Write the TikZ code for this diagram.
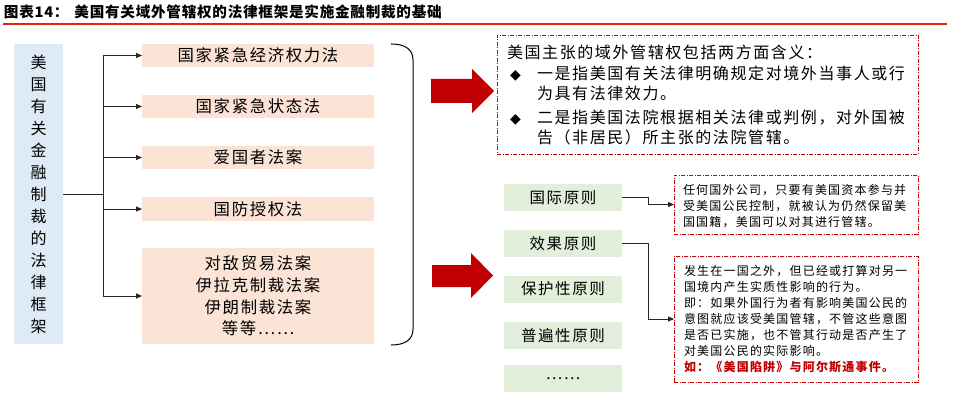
\documentclass[tikz,border=0pt]{standalone}
\usepackage{fontspec}
\setmainfont{Noto Sans CJK SC}
\newfontfamily\spaced[LetterSpace=10]{Noto Sans CJK SC}
\newfontfamily\titlefont[LetterSpace=5]{Noto Sans CJK SC}
\newfontfamily\symfont{DejaVu Sans}
\usetikzlibrary{arrows.meta}
\definecolor{bluebg}{RGB}{222,234,246}
\definecolor{peach}{RGB}{251,228,213}
\definecolor{greenbg}{RGB}{226,239,218}
\definecolor{darkred}{RGB}{192,0,0}
\definecolor{titlered}{RGB}{235,30,10}
\newcommand\dia{\makebox[30pt][l]{\hspace*{3pt}\symfont\fontsize{14}{14}\selectfont ◆}}
\begin{document}
\begin{tikzpicture}[x=1pt,y=-1pt,
  every node/.style={inner sep=0pt, outer sep=0pt},
  vbox/.style={fill=bluebg, minimum width=49pt, minimum height=300pt, align=center, font=\spaced\fontsize{16}{22}\selectfont},
  law/.style={fill=peach, minimum width=232pt, align=center, font=\spaced\fontsize{16.4}{21.7}\selectfont},
  principle/.style={fill=greenbg, minimum width=118pt, minimum height=27pt, font=\spaced\fontsize{15.5}{18}\selectfont},
  redbox/.style={draw=darkred, line width=0.8pt, dash pattern=on 4pt off 1.5pt on 1pt off 1.5pt},
  arr/.style={draw=black!85, line width=0.8pt, -{Triangle[length=6pt,width=5pt]}},
  bigarrow/.style={fill=darkred},
]
\useasboundingbox (0,0) rectangle (960,409);
% title
\node[anchor=west, font=\titlefont\bfseries\fontsize{14.6}{16}\selectfont] (title) at (4,12) {图表14：\hspace{6pt}美国有关域外管辖权的法律框架是实施金融制裁的基础};
\coordinate (tl) at (3,24);
\coordinate (tr) at (947,24);
\draw[titlered, line width=2pt] (tl) -- (tr);

% left column
\node[vbox] (root) at (38.5,194) {美\\国\\有\\关\\金\\融\\制\\裁\\的\\法\\律\\框\\架};
\node[law, minimum height=23pt] (p1) at (258,55.5) {国家紧急经济权力法};
\node[law, minimum height=23pt] (p2) at (258,106.5) {国家紧急状态法};
\node[law, minimum height=23pt] (p3) at (258,157.5) {爱国者法案};
\node[law, minimum height=24pt] (p4) at (258,209) {国防授权法};
\node[law, minimum height=96pt] (p5) at (258,296) {对敌贸易法案\\伊拉克制裁法案\\伊朗制裁法案\\等等……};

\coordinate (trunk) at (103,194);
\draw[black!85, line width=0.8pt] (root.east |- trunk) -- (trunk);
\foreach \p in {p1,p2,p3,p4,p5}{
  \draw[arr] (trunk) |- (\p.west);
}

% bracket
\draw[line width=1pt] (391,44) .. controls (406,44) and (413,50) .. (413,60) -- (413,329) .. controls (413,339) and (406,345) .. (391,345);

% big red arrows
\fill[bigarrow] (431,79) -- (472,79) -- (472,69) -- (494,91) -- (472,113) -- (472,103) -- (431,103) -- cycle;
\fill[bigarrow] (432,265) -- (471,265) -- (471,253) -- (493,275.5) -- (471,298) -- (471,287) -- (432,287) -- cycle;

% upper box
\node[redbox, minimum width=421pt, minimum height=119pt] (ubox) at (707.5,94.5) {};
\node[anchor=west, align=left, font=\spaced\fontsize{16}{20.5}\selectfont] (utext) at (507,95) {美国主张的域外管辖权包括两方面含义：\\
\dia 一是指美国有关法律明确规定对境外当事人或行\\
\hspace*{30pt}为具有法律效力。\\[3pt]
\dia 二是指美国法院根据相关法律或判例，对外国被\\
\hspace*{30pt}告（非居民）所主张的法院管辖。};

% principles
\node[principle] (g1) at (563,197.5) {国际原则};
\node[principle] (g2) at (563,243.5) {效果原则};
\node[principle] (g3) at (563,289) {保护性原则};
\node[principle] (g4) at (563,335.5) {普遍性原则};
\node[principle] (g5) at (563,378.5) {……};

% small boxes
\node[redbox, minimum width=244pt, minimum height=59pt] (s1) at (796,204.5) {};
\node[anchor=west, align=left, font=\spaced\fontsize{12}{16}\selectfont] (s1text) at (683,206) {任何国外公司，只要有美国资本参与并\\
受美国公民控制，就被认为仍然保留美\\
国国籍，美国可以对其进行管辖。};
\node[redbox, minimum width=244pt, minimum height=126pt] (s2) at (796,319) {};
\node[anchor=west, align=left, font=\spaced\fontsize{12}{16}\selectfont] (s2text) at (684,319.5) {发生在一国之外，但已经或打算对另一\\
国境内产生实质性影响的行为。\\
即：如果外国行为者有影响美国公民的\\
意图就应该受美国管辖，不管这些意图\\
是否已实施，也不管其行动是否产生了\\
对美国公民的实际影响。\\
\textcolor{darkred}{\bfseries 如：《美国陷阱》与阿尔斯通事件。}};

\coordinate (elbow) at (648,0);
\draw[arr] (g1.east) -- (g1.east -| elbow) |- (s1.west);
\draw[arr] (g2.east) -- (g2.east -| elbow) |- (s2.west);
\end{tikzpicture}
\end{document}
